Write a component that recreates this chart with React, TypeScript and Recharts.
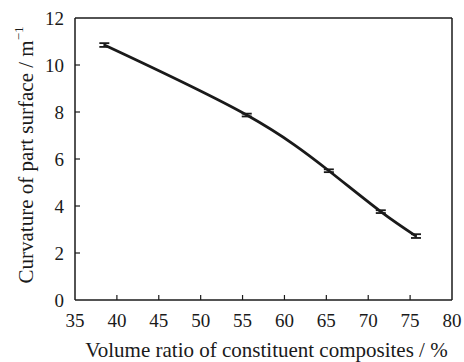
import { LineChart, Line, XAxis, YAxis, ErrorBar, ReferenceLine, Label } from 'recharts'

const volumeRatio = [38.5, 55.5, 65.3, 71.5, 75.7]
const curvature = [10.85, 7.87, 5.5, 3.76, 2.72]
const curvatureErr = [0.08, 0.06, 0.06, 0.06, 0.08]
const xTicks = [35, 40, 45, 50, 55, 60, 65, 70, 75, 80]
const yTicks = [0, 2, 4, 6, 8, 10, 12]

const data = volumeRatio.map((v, i) => ({ v, c: curvature[i], err: curvatureErr[i] }))

const FONT = 'Liberation Serif, DejaVu Serif, serif'
const INK = '#1a1a1a'
const textStyle = { fontFamily: FONT }

const XTick = ({ x, y, payload }: any) => (
  <g>
    {payload.value !== 35 && payload.value !== 80 && (
      <line x1={x} y1={y} x2={x} y2={y - 5} stroke={INK} strokeWidth={1.2} />
    )}
    <text x={x} y={y + 27} textAnchor="middle" style={textStyle} fontSize={19} fill={INK}>
      {payload.value}
    </text>
  </g>
)

const YTick = ({ x, y, payload }: any) => (
  <g>
    {payload.value !== 0 && payload.value !== 12 && (
      <line x1={x} y1={y} x2={x + 5} y2={y} stroke={INK} strokeWidth={1.2} />
    )}
    <text x={x - 11} y={y + 7} textAnchor="end" style={textStyle} fontSize={19} fill={INK}>
      {payload.value}
    </text>
  </g>
)

export default function App() {
  return (
    <div style={{ position: 'absolute', left: 0, top: 0, background: '#fff', fontFamily: FONT }}>
      <LineChart width={464} height={362} data={data} margin={{ top: 18, right: 12, left: 0, bottom: 0 }}>
        <XAxis
          dataKey="v"
          type="number"
          domain={[35, 80]}
          ticks={xTicks}
          height={62}
          tickSize={0}
          tickMargin={0}
          tickLine={false}
          axisLine={{ stroke: INK, strokeWidth: 1.5 }}
          tick={<XTick />}
          interval={0}
        >
          <Label
            content={({ viewBox }: any) => (
              <text
                x={viewBox.x + viewBox.width / 2 + 3}
                y={viewBox.y + 57}
                textAnchor="middle"
                style={textStyle}
                fontSize={21}
                fill={INK}
              >
                Volume ratio of constituent composites / %
              </text>
            )}
          />
        </XAxis>
        <YAxis
          type="number"
          domain={[0, 12]}
          ticks={yTicks}
          width={75}
          tickSize={0}
          tickMargin={0}
          tickLine={false}
          axisLine={{ stroke: INK, strokeWidth: 1.5 }}
          tick={<YTick />}
          interval={0}
        >
          <Label
            content={({ viewBox }: any) => {
              const cx = 26
              const cy = viewBox.y + viewBox.height / 2 - 4
              return (
                <text
                  x={cx}
                  y={cy}
                  transform={`rotate(-90, ${cx}, ${cy})`}
                  textAnchor="middle"
                  dominantBaseline="central"
                  style={textStyle}
                  fontSize={21}
                  fill={INK}
                >
                  Curvature of part surface / m
                  <tspan dy={-8} fontSize={13}>−1</tspan>
                </text>
              )
            }}
          />
        </YAxis>
        <ReferenceLine y={12} stroke={INK} strokeWidth={1.5} />
        <ReferenceLine x={80} stroke={INK} strokeWidth={1.5} />
        <Line
          dataKey="c"
          type="natural"
          stroke={INK}
          strokeWidth={2.8}
          dot={false}
          isAnimationActive={false}
        >
          <ErrorBar dataKey="err" width={5} stroke={INK} strokeWidth={1.8} direction="y" />
        </Line>
      </LineChart>
    </div>
  )
}
